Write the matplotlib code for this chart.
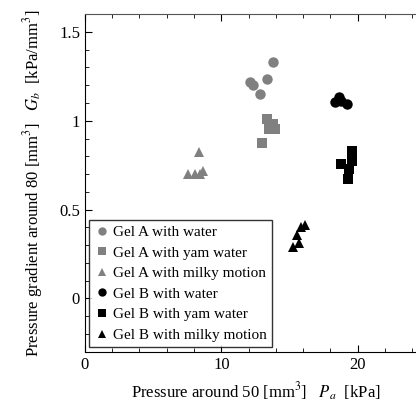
import numpy as np
import matplotlib
matplotlib.use('Agg')
import matplotlib.pyplot as plt
from matplotlib.ticker import MultipleLocator

plt.rcParams['font.family'] = ['Liberation Serif', 'DejaVu Serif']
plt.rcParams['mathtext.fontset'] = 'stix'

# Gel A (gray) / Gel B (black)
a_water_x = [13.78, 13.33, 12.07, 12.3, 12.8]
a_water_y = [1.33, 1.235, 1.218, 1.20, 1.15]
a_yam_x = [13.33, 13.78, 13.93, 13.48, 12.96]
a_yam_y = [1.011, 0.983, 0.955, 0.955, 0.877]
a_milky_x = [7.56, 8.07, 8.37, 8.67, 8.44]
a_milky_y = [0.698, 0.698, 0.827, 0.72, 0.698]
b_water_x = [18.6, 18.3, 18.74, 19.19]
b_water_y = [1.134, 1.106, 1.11, 1.095]
b_yam_x = [19.56, 19.56, 18.74, 19.33, 19.26]
b_yam_y = [0.832, 0.771, 0.754, 0.73, 0.67]
b_milky_x = [16.15, 15.85, 15.56, 15.7, 15.26]
b_milky_y = [0.413, 0.402, 0.358, 0.313, 0.29]

gray = '#808080'
series = [
    (a_water_x, a_water_y, 'o', gray, 'Gel A with water'),
    (a_yam_x, a_yam_y, 's', gray, 'Gel A with yam water'),
    (a_milky_x, a_milky_y, '^', gray, 'Gel A with milky motion'),
    (b_water_x, b_water_y, 'o', 'black', 'Gel B with water'),
    (b_yam_x, b_yam_y, 's', 'black', 'Gel B with yam water'),
    (b_milky_x, b_milky_y, '^', 'black', 'Gel B with milky motion'),
]

fig = plt.figure(figsize=(4.16, 4.03), dpi=100)
ax = fig.add_axes([0.204, 0.127, 0.82, 0.838])

for x, y, m, c, lab in series:
    ax.plot(x, y, linestyle='none', marker=m, color=c, markersize=7.5,
            markeredgewidth=0, label=lab)

ax.set_xlim(0, 25)
ax.set_ylim(-0.3, 1.6)
ax.xaxis.set_minor_locator(MultipleLocator(2))
ax.yaxis.set_minor_locator(MultipleLocator(0.1))
ax.set_xticks([0, 10, 20])
ax.set_xticklabels(['0', '10', '20'])
ax.set_yticks([0, 0.5, 1, 1.5])
ax.set_yticklabels(['0', '0.5', '1', '1.5'])
ax.tick_params(which='both', direction='in', top=True, right=False, labelsize=12)
ax.tick_params(which='major', length=5)
ax.tick_params(which='minor', length=3)
ax.spines['right'].set_visible(False)
ax.spines['top'].set_color('#555555')

ax.set_xlabel(r'Pressure around 50 [mm$^3$]   $P_a$  [kPa]', fontsize=12, labelpad=6)
ax.set_ylabel(r'Pressure gradient around 80 [mm$^3$]   $G_b$  [kPa/mm$^3$]', fontsize=12, labelpad=10)

leg = ax.legend(loc='lower left', fontsize=11, frameon=True, fancybox=False,
                handletextpad=0.2, handlelength=1.0, borderpad=0.35,
                labelspacing=0.45, borderaxespad=0.3, markerscale=0.8)
leg.get_frame().set_edgecolor('black')
leg.get_frame().set_linewidth(1.0)

fig.savefig('out.png', dpi=100)
